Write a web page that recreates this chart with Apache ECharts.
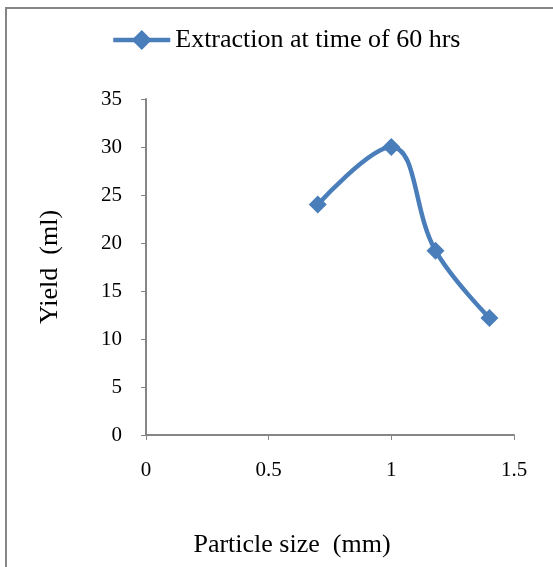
<!DOCTYPE html>
<html><head><meta charset="utf-8">
<script src="https://cdn.jsdelivr.net/npm/echarts@6/dist/echarts.min.js"></script>
<style>html,body{margin:0;padding:0;background:#fff}#c{width:553px;height:567px}</style>
</head><body><div id="c"></div>
<script>
const seriesName = 'Extraction at time of 60 hrs';
const particleSize = [0.7, 1.0, 1.18, 1.4];
const yieldMl = [24.0, 30.0, 19.2, 12.2];
const xTicks = [0, 0.5, 1, 1.5];
const yTicks = [0, 5, 10, 15, 20, 25, 30, 35];

const font = 'Liberation Serif';
const axisColor = '#868686';
const chart = echarts.init(document.getElementById('c'));
chart.setOption({
  animation: false,
  backgroundColor: '#fff',
  graphic: [{
    type: 'rect', shape: {x: 6, y: 8, width: 600, height: 600},
    style: {fill: 'none', stroke: axisColor, lineWidth: 2}, z: -10
  }],
  legend: {
    top: 22, left: 106,
    itemWidth: 57, itemHeight: 25, itemGap: 3,
    lineStyle: {width: 4.5},
    textStyle: {fontFamily: font, fontSize: 26, color: '#000'},
    data: [{name: seriesName}]
  },
  grid: {left: 146, right: 39, top: 99, bottom: 132},
  xAxis: {
    type: 'value', min: xTicks[0], max: xTicks[xTicks.length - 1], interval: 0.5,
    name: 'Particle size  (mm)', nameLocation: 'middle', nameGap: 97,
    nameTextStyle: {fontFamily: font, fontSize: 26, color: '#000', padding: [0, 76, 0, 0]},
    axisLine: {show: true, lineStyle: {color: axisColor, width: 2}},
    axisTick: {show: true, length: 5, lineStyle: {color: axisColor, width: 1}},
    axisLabel: {fontFamily: font, fontSize: 21, color: '#000', margin: 25},
    splitLine: {show: false}
  },
  yAxis: {
    type: 'value', min: yTicks[0], max: yTicks[yTicks.length - 1], interval: 5,
    name: 'Yield  (ml)', nameLocation: 'middle', nameGap: 83,
    nameTextStyle: {fontFamily: font, fontSize: 26, color: '#000'},
    axisLine: {show: true, lineStyle: {color: axisColor, width: 2}},
    axisTick: {show: true, length: 5, lineStyle: {color: axisColor, width: 1}},
    axisLabel: {fontFamily: font, fontSize: 21, color: '#000', margin: 24},
    splitLine: {show: false}
  },
  series: [{
    name: seriesName, type: 'line', smooth: 0.4,
    data: particleSize.map((x, i) => [x, yieldMl[i]]),
    symbol: 'diamond', symbolSize: 18,
    itemStyle: {color: '#4A7EBB'},
    lineStyle: {color: '#4A7EBB', width: 4.5}
  }]
});
</script></body></html>
